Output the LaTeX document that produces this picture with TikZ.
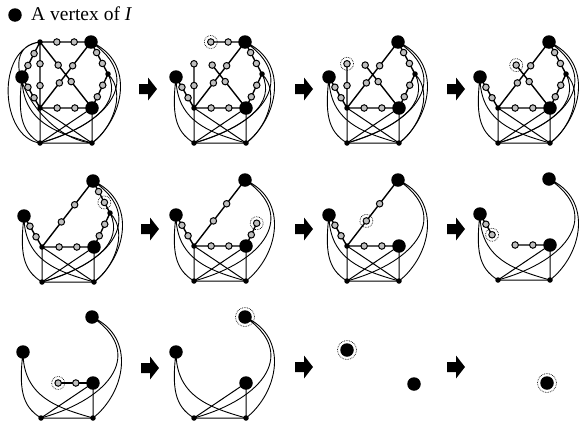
\documentclass[tikz,border=0pt]{standalone}
\usepackage{fontspec}
\setmainfont{Liberation Serif}
\usetikzlibrary{calc}

\tikzset{
  bigv/.style={circle,fill=black,inner sep=0pt,minimum size=13.5pt},
  smallv/.style={circle,fill=black,inner sep=0pt,minimum size=5.5pt},
  subv/.style={circle,draw=black,fill=gray!50,line width=1pt,inner sep=0pt,minimum size=6.5pt},
  pick/.style={circle,draw=black,densely dotted,line width=0.7pt,inner sep=0pt,minimum size=#1},
  pick/.default=13pt,
  linkline/.style={line width=1.4pt},
  boxline/.style={line width=1pt},
  arcline/.style={line width=0.9pt}
}

% local frame of one panel, origin at vertex d
\newcommand{\setpoints}{%
  \coordinate (a) at (0,-66);
  \coordinate (b) at (51,-66);
  \coordinate (c) at (-18,-31);
  \coordinate (d) at (0,0);
  \coordinate (e) at (52,0);
  \coordinate (f) at (0,35);
  \coordinate (g) at (52,35);
  \coordinate (h) at (68,-34);
  \foreach \u/\v/\s/\t in {a/b/0.33/0.67, a/d/0.33/0.66, a/e/0.35/0.6,
      b/d/0.36/0.62, d/e/0.33/0.67, a/c/0.33/0.67, c/d/0.33/0.67,
      b/h/0.33/0.67, h/e/0.33/0.67}{
    \coordinate (\u\v1) at ($(\u)!\s!(\v)$);
    \coordinate (\u\v2) at ($(\u)!\t!(\v)$);
  }
}
% curved edges down to f and g
\newcommand{\aarcs}{%
  \draw[arcline] (a) .. controls +(-45,6) and +(-40,-5) .. (f)
                 (a) .. controls +(-50,5) and +(-55,-5) .. (g);}
\newcommand{\carcs}{%
  \draw[arcline] (c) .. controls +(-4,35) and +(-20,-12) .. (f)
                 (c) .. controls +(0,45) and +(-35,-10) .. (g);}
\newcommand{\barcs}{%
  \draw[arcline] (b) .. controls +(45,20) and +(32,-25) .. (g)
                 (b) .. controls +(52,35) and +(72,-20) .. (f);}
\newcommand{\harcs}{%
  \draw[arcline] (h) .. controls +(20,20) and +(18,-12) .. (g)
                 (h) .. controls +(15,30) and +(50,-15) .. (f);}
\newcommand{\boxes}{\draw[boxline] (d) -- (f) -- (g) -- (e) (d) -- (g) (e) -- (f);}
\newcommand{\putv}[2]{\foreach \p in {#2} \node[#1] (v\p) at (\p) {};}

\begin{document}
\begin{tikzpicture}[x=1pt,y=-1pt]
  \useasboundingbox (0,0) rectangle (579,426);

  % key
  \node[bigv] (key) at (15,15) {};
  \node[anchor=base west,inner sep=0pt,font=\fontsize{19.5}{22}\selectfont] (keytext) at (31,20.5) {A vertex of \textit{I}};

  % step arrows
  \foreach \ax/\ay in {148/89, 304/89, 456/89, 150/229, 304/229, 456/229, 150/368, 304/367, 456/367}
    \fill (\ax,\ay) ++(-9,-5) -- ++(9,0) -- ++(0,-6.5) -- ++(9,11.5) -- ++(-9,11.5) -- ++(0,-6.5) -- ++(-9,0) -- cycle;

  % row 1
  \begin{scope}[shift={(40,108)}]
    \setpoints
    \aarcs \carcs \barcs \harcs \boxes
    \draw[linkline] (a) -- (b) (a) -- (d) -- (e) -- (a) (b) -- (d)
      (a) -- (c) -- (d) (b) -- (h) -- (e);
    \putv{subv}{ab1,ab2,ad1,ad2,ae1,ae2,bd1,bd2,de1,de2,ac1,ac2,cd1,cd2,bh1,bh2,he1,he2}
    \putv{smallv}{a,d,f,g,h}
    \putv{bigv}{b,c,e}
  \end{scope}

  \begin{scope}[shift={(194,108)}]
    \setpoints
    \carcs \barcs \harcs \boxes
    \draw[linkline] (ab1) -- (b) (ad1) -- (d) -- (e) -- (ae1) (b) -- (d)
      (c) -- (d) (b) -- (h) -- (e);
    \putv{subv}{ab1,ab2,ad1,ad2,ae1,ae2,bd1,bd2,de1,de2,cd1,cd2,bh1,bh2,he1,he2}
    \putv{smallv}{d,f,g,h}
    \putv{bigv}{b,c,e}
    \node[pick] (sel) at (ab1) {};
  \end{scope}

  \begin{scope}[shift={(347,108)}]
    \setpoints
    \carcs \barcs \harcs \boxes
    \draw[linkline] (ad1) -- (d) -- (e) -- (ae1) (b) -- (d)
      (c) -- (d) (b) -- (h) -- (e);
    \putv{subv}{ad1,ad2,ae1,ae2,bd1,bd2,de1,de2,cd1,cd2,bh1,bh2,he1,he2}
    \putv{smallv}{d,f,g,h}
    \putv{bigv}{b,c,e}
    \node[pick] (sel) at (ad1) {};
  \end{scope}

  \begin{scope}[shift={(498,108)}]
    \setpoints
    \carcs \barcs \harcs \boxes
    \draw[linkline] (d) -- (e) -- (ae1) (b) -- (d)
      (c) -- (d) (b) -- (h) -- (e);
    \putv{subv}{ae1,ae2,bd1,bd2,de1,de2,cd1,cd2,bh1,bh2,he1,he2}
    \putv{smallv}{d,f,g,h}
    \putv{bigv}{b,c,e}
    \node[pick] (sel) at (ae1) {};
  \end{scope}

  % row 2
  \begin{scope}[shift={(42,247)}]
    \setpoints
    \carcs \barcs \harcs \boxes
    \draw[linkline] (d) -- (e) (b) -- (d)
      (c) -- (d) (b) -- (h) -- (e);
    \putv{subv}{bd1,bd2,de1,de2,cd1,cd2,bh1,bh2,he1,he2}
    \putv{smallv}{d,f,g,h}
    \putv{bigv}{b,c,e}
    \node[pick] (sel) at (bh2) {};
  \end{scope}

  \begin{scope}[shift={(194,246)}]
    \setpoints
    \carcs \barcs \boxes
    \draw[linkline] (d) -- (e) (b) -- (d)
      (c) -- (d) (he1) -- (e);
    \putv{subv}{bd1,bd2,de1,de2,cd1,cd2,he1,he2}
    \putv{smallv}{d,f,g}
    \putv{bigv}{b,c,e}
    \node[pick] (sel) at (he1) {};
  \end{scope}

  \begin{scope}[shift={(347,246)}]
    \setpoints
    \carcs \barcs \boxes
    \draw[linkline] (d) -- (e) (b) -- (d) (c) -- (d);
    \putv{subv}{bd1,bd2,de1,de2,cd1,cd2}
    \putv{smallv}{d,f,g}
    \putv{bigv}{b,c,e}
    \node[pick] (sel) at (bd2) {};
  \end{scope}

  \begin{scope}[shift={(498,245)}]
    \setpoints
    \carcs \barcs
    \draw[boxline] (f) -- (g) -- (e) -- (f);
    \draw[linkline] (c) -- (cd2) (de1) -- (e);
    \putv{subv}{de1,de2,cd1,cd2}
    \putv{smallv}{f,g}
    \putv{bigv}{b,c,e}
    \node[pick] (sel) at (cd2) {};
  \end{scope}

  % row 3
  \begin{scope}[shift={(41,383)}]
    \setpoints
    \carcs \barcs
    \draw[boxline] (f) -- (g) -- (e) -- (f);
    \draw[linkline] (de1) -- (e);
    \putv{subv}{de1,de2}
    \putv{smallv}{f,g}
    \putv{bigv}{b,c,e}
    \node[pick] (sel) at (de1) {};
  \end{scope}

  \begin{scope}[shift={(194,383)}]
    \setpoints
    \carcs \barcs
    \draw[boxline] (f) -- (g) -- (e) -- (f);
    \putv{smallv}{f,g}
    \putv{bigv}{b,c,e}
    \node[pick=19pt] (sel) at (b) {};
  \end{scope}

  \node[bigv] (lone1) at (347,350) {};
  \node[pick=19pt] (sel1) at (lone1) {};
  \node[bigv] (lone2) at (414,384) {};
  \node[bigv] (lone3) at (547,383) {};
  \node[pick=19pt] (sel3) at (lone3) {};
\end{tikzpicture}
\end{document}
